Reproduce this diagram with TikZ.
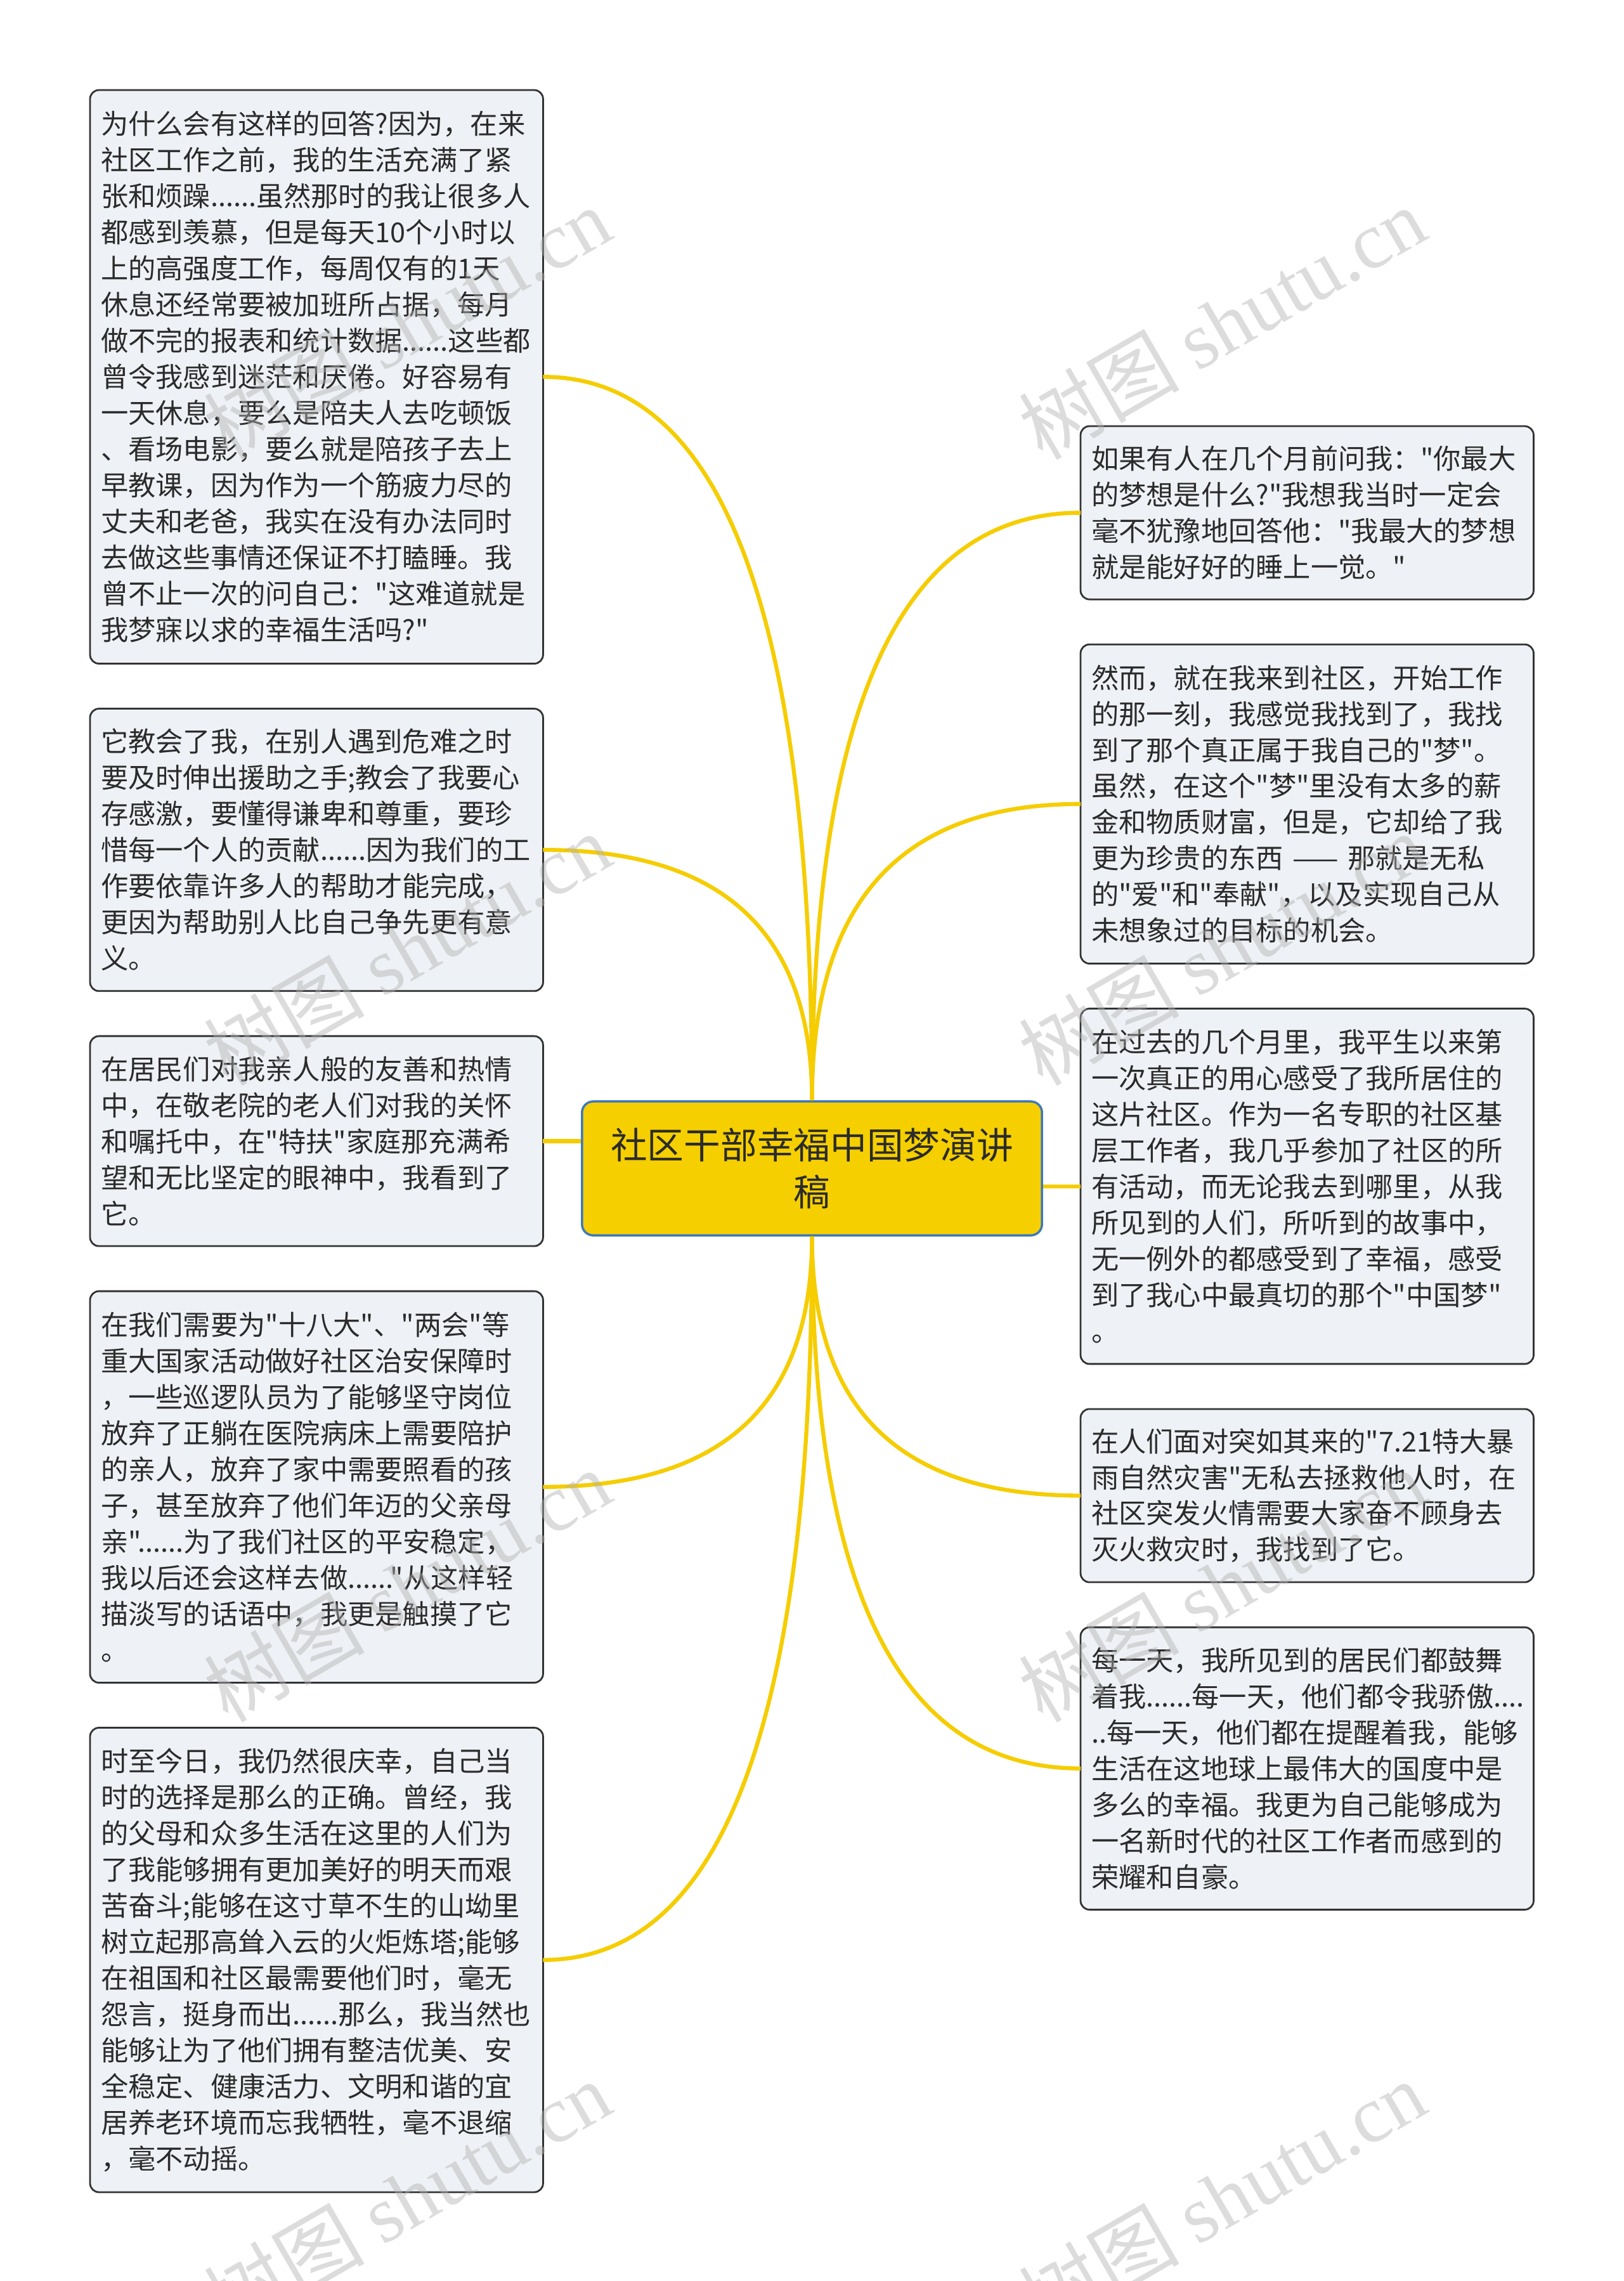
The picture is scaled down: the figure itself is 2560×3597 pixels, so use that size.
\documentclass[tikz,border=0pt]{standalone}
\usepackage{fontspec}
\newfontfamily\cjk{Noto Sans CJK SC}
\newfontfamily\wmfont{Liberation Serif}
\usepackage{xcolor}
\usetikzlibrary{positioning,calc}

\definecolor{linkyellow}{HTML}{F5CD00}
\definecolor{rootfill}{HTML}{F5CF00}
\definecolor{rootblue}{HTML}{3D79BD}
\definecolor{leaffill}{HTML}{EEF1F5}
\definecolor{ink}{HTML}{2B2B2B}

\begin{document}
\begin{tikzpicture}[
  x=0.01cm, y=-0.01cm,
  node distance=0.71cm,
  root/.style={draw=rootblue,line width=1pt,fill=rootfill,rounded corners=5pt,minimum width=7.25cm,minimum height=2.11cm,text width=6.9cm,inner xsep=0.175cm,align=center,text=ink,font=\cjk\fontsize{16.4pt}{20.8pt}\selectfont},
  leaf/.style={draw=black!80,line width=0.8pt,outer sep=0pt,fill=leaffill,rounded corners=4pt,minimum height=#1,text width=6.8cm,inner xsep=0.17cm,align=left,text=ink,font=\cjk\fontsize{12.3pt}{16.2pt}\selectfont},
  link/.style={draw=linkyellow,line width=1.8pt},
  branch/.style={to path={.. controls ($(\tikztostart)!.67!(\tikztostart |- \tikztotarget)$) and ($(\tikztotarget)!.67!(\tikztostart |- \tikztotarget)$) .. (\tikztotarget)}},
  wm/.style={rotate=30,text=black!30,opacity=0.45,font=\cjk\fontsize{36pt}{36pt}\selectfont},
]
\useasboundingbox (0,0) rectangle (2560,3597);

% centre
\node[root] (root) at (1280.5,1842.5) {社区干部幸福中国梦演讲\\稿};

% left column, top to bottom
\node[leaf=9.04cm, anchor=north west] (l1) at (142,142) {为什么会有这样的回答?因为，在来\\社区工作之前，我的生活充满了紧\\张和烦躁......虽然那时的我让很多人\\都感到羡慕，但是每天10个小时以\\上的高强度工作，每周仅有的1天\\休息还经常要被加班所占据，每月\\做不完的报表和统计数据......这些都\\曾令我感到迷茫和厌倦。好容易有\\一天休息，要么是陪夫人去吃顿饭\\、看场电影，要么就是陪孩子去上\\早教课，因为作为一个筋疲力尽的\\丈夫和老爸，我实在没有办法同时\\去做这些事情还保证不打瞌睡。我\\曾不止一次的问自己："这难道就是\\我梦寐以求的幸福生活吗?"};
\node[leaf=4.45cm, below=of l1] (l2) {它教会了我，在别人遇到危难之时\\要及时伸出援助之手;教会了我要心\\存感激，要懂得谦卑和尊重，要珍\\惜每一个人的贡献......因为我们的工\\作要依靠许多人的帮助才能完成，\\更因为帮助别人比自己争先更有意\\义。};
\node[leaf=3.31cm, below=of l2] (l3) {在居民们对我亲人般的友善和热情\\中，在敬老院的老人们对我的关怀\\和嘱托中，在"特扶"家庭那充满希\\望和无比坚定的眼神中，我看到了\\它。};
\node[leaf=6.17cm, below=of l3] (l4) {在我们需要为"十八大"、"两会"等\\重大国家活动做好社区治安保障时\\，一些巡逻队员为了能够坚守岗位\\放弃了正躺在医院病床上需要陪护\\的亲人，放弃了家中需要照看的孩\\子，甚至放弃了他们年迈的父亲母\\亲"......为了我们社区的平安稳定，\\我以后还会这样去做......"从这样轻\\描淡写的话语中，我更是触摸了它\\。};
\node[leaf=7.32cm, below=of l4] (l5) {时至今日，我仍然很庆幸，自己当\\时的选择是那么的正确。曾经，我\\的父母和众多生活在这里的人们为\\了我能够拥有更加美好的明天而艰\\苦奋斗;能够在这寸草不生的山坳里\\树立起那高耸入云的火炬炼塔;能够\\在祖国和社区最需要他们时，毫无\\怨言，挺身而出......那么，我当然也\\能够让为了他们拥有整洁优美、安\\全稳定、健康活力、文明和谐的宜\\居养老环境而忘我牺牲，毫不退缩\\，毫不动摇。};

% right column, top to bottom
\node[leaf=2.73cm, anchor=north west] (r1) at (1704,672) {如果有人在几个月前问我："你最大\\的梦想是什么?"我想我当时一定会\\毫不犹豫地回答他："我最大的梦想\\就是能好好的睡上一觉。"};
\node[leaf=5.03cm, below=of r1] (r2) {然而，就在我来到社区，开始工作\\的那一刻，我感觉我找到了，我找\\到了那个真正属于我自己的"梦"。\\虽然，在这个"梦"里没有太多的薪\\金和物质财富，但是，它却给了我\\更为珍贵的东西 —— 那就是无私\\的"爱"和"奉献"，以及实现自己从\\未想象过的目标的机会。};
\node[leaf=5.60cm, below=of r2] (r3) {在过去的几个月里，我平生以来第\\一次真正的用心感受了我所居住的\\这片社区。作为一名专职的社区基\\层工作者，我几乎参加了社区的所\\有活动，而无论我去到哪里，从我\\所见到的人们，所听到的故事中，\\无一例外的都感受到了幸福，感受\\到了我心中最真切的那个"中国梦"\\。};
\node[leaf=2.73cm, below=of r3] (r4) {在人们面对突如其来的"7.21特大暴\\雨自然灾害"无私去拯救他人时，在\\社区突发火情需要大家奋不顾身去\\灭火救灾时，我找到了它。};
\node[leaf=4.45cm, below=of r4] (r5) {每一天，我所见到的居民们都鼓舞\\着我......每一天，他们都令我骄傲....\\..每一天，他们都在提醒着我，能够\\生活在这地球上最伟大的国度中是\\多么的幸福。我更为自己能够成为\\一名新时代的社区工作者而感到的\\荣耀和自豪。};

% branches
\draw[link] (root.north) to[branch] (l1.east);
\draw[link] (root.north) to[branch] (l2.east);
\draw[link] (root.west |- l3.east) -- (l3.east);
\draw[link] (root.south) to[branch] (l4.east);
\draw[link] (root.south) to[branch] (l5.east);
\draw[link] (root.north) to[branch] (r1.west);
\draw[link] (root.north) to[branch] (r2.west);
\draw[link] (root.east |- r3.west) -- (r3.west);
\draw[link] (root.south) to[branch] (r4.west);
\draw[link] (root.south) to[branch] (r5.west);

% watermark
\node[wm] (wm1) at (642,509)   {树图 {\wmfont shutu.cn}};
\node[wm] (wm2) at (1927,509)  {树图 {\wmfont shutu.cn}};
\node[wm] (wm3) at (642,1496)  {树图 {\wmfont shutu.cn}};
\node[wm] (wm4) at (1927,1496) {树图 {\wmfont shutu.cn}};
\node[wm] (wm5) at (642,2500)  {树图 {\wmfont shutu.cn}};
\node[wm] (wm6) at (1927,2500) {树图 {\wmfont shutu.cn}};
\node[wm] (wm7) at (642,3464)  {树图 {\wmfont shutu.cn}};
\node[wm] (wm8) at (1927,3464) {树图 {\wmfont shutu.cn}};
\end{tikzpicture}
\end{document}
